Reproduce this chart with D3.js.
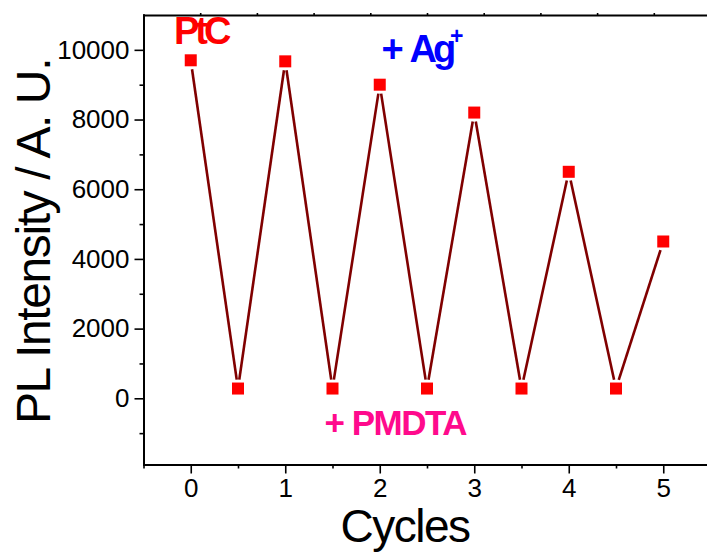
<!DOCTYPE html>
<html>
<head>
<meta charset="utf-8">
<script src="https://cdn.jsdelivr.net/npm/d3@7"></script>
<style>
  html, body { margin: 0; padding: 0; background: #fff; }
  svg { display: block; font-family: "Liberation Sans", Arial, sans-serif; }
</style>
</head>
<body>
<svg class="chart"></svg>
<script>
// values
const cycles = [0, 0.5, 1, 1.5, 2, 2.5, 3, 3.5, 4, 4.5, 5];
const intensity = [9700, 280, 9670, 280, 9000, 280, 8200, 280, 6500, 280, 4500];
const xTicks = [0, 1, 2, 3, 4, 5];
const xMinor = [-0.5, 0.5, 1.5, 2.5, 3.5, 4.5];
const yTicks = [0, 2000, 4000, 6000, 8000, 10000];
const yMinor = [-1000, 1000, 3000, 5000, 7000, 9000];
const topTicks = [0, 1, 2, 3, 4, 5, 6, 7, 8];

const chart_width = 707, chart_height = 560;
const plot_left = 143.5, plot_right = 710.5, plot_top = 15, plot_bottom = 464.5;

const svg = d3.select('.chart')
  .attr('width', chart_width)
  .attr('height', chart_height);

const x = d3.scaleLinear().domain([-0.5, 5.5]).range([plot_left, plot_right]);
const y = d3.scaleLinear().domain([-1900, 11000]).range([plot_bottom, plot_top]);
const xTop = d3.scaleLinear().domain([-1, 9]).range([plot_left, plot_right]);

function styleAxis(g, fs) {
  g.select('.domain').attr('stroke', '#000').attr('stroke-width', 2).attr('stroke-linecap', 'square');
  g.selectAll('.tick line').attr('stroke', '#000').attr('stroke-width', 1.6);
  g.selectAll('.tick text').attr('fill', '#000').style('font-size', fs + 'px')
    .style('font-family', '"Liberation Sans", Arial, sans-serif');
}

// top frame line with its tiny ticks
svg.append('g')
  .attr('transform', 'translate(0,' + plot_top + ')')
  .call(d3.axisTop(xTop).tickValues(topTicks).tickSize(2).tickSizeOuter(0).tickFormat(''))
  .call(g => styleAxis(g, 10));

// bottom axis
svg.append('g')
  .attr('transform', 'translate(0,' + plot_bottom + ')')
  .call(d3.axisBottom(x).tickValues(xMinor).tickSize(4).tickSizeOuter(0).tickFormat(''))
  .call(g => styleAxis(g, 10));
svg.append('g')
  .attr('transform', 'translate(0,' + plot_bottom + ')')
  .call(d3.axisBottom(x).tickValues(xTicks).tickSize(9).tickPadding(5).tickSizeOuter(0).tickFormat(d3.format('d')))
  .call(g => styleAxis(g, 26));

// left axis
svg.append('g')
  .attr('transform', 'translate(' + plot_left + ',0)')
  .call(d3.axisLeft(y).tickValues(yMinor).tickSize(4).tickSizeOuter(0).tickFormat(''))
  .call(g => styleAxis(g, 10));
svg.append('g')
  .attr('transform', 'translate(' + plot_left + ',0)')
  .call(d3.axisLeft(y).tickValues(yTicks).tickSize(9).tickPadding(5).tickSizeOuter(0).tickFormat(d3.format('d')))
  .call(g => styleAxis(g, 26));

// line, with small gaps around the symbols
const pts = cycles.map((c, i) => [x(c), y(intensity[i])]);
const gap = 9;
const segs = d3.pairs(pts).map(([a, b]) => {
  const dx = b[0] - a[0], dy = b[1] - a[1];
  const len = Math.hypot(dx, dy);
  const ux = dx / len, uy = dy / len;
  return [[a[0] + ux * gap, a[1] + uy * gap], [b[0] - ux * gap, b[1] - uy * gap]];
});
svg.append('g')
  .selectAll('line')
  .data(segs)
  .enter()
  .append('line')
  .attr('x1', d => d[0][0])
  .attr('y1', d => d[0][1])
  .attr('x2', d => d[1][0])
  .attr('y2', d => d[1][1])
  .attr('stroke', '#800000')
  .attr('stroke-width', 2.6);

// square symbols
const sz = 12;
svg.append('g')
  .selectAll('rect')
  .data(cycles)
  .enter()
  .append('rect')
  .attr('x', d => x(d) - sz / 2)
  .attr('y', (d, i) => y(intensity[i]) - sz / 2)
  .attr('width', sz)
  .attr('height', sz)
  .attr('fill', '#ff0000');

// annotations
svg.append('text')
  .attr('x', 174).attr('y', 44)
  .attr('fill', '#ff0000')
  .style('font-size', '38px').style('font-weight', 'bold').style('letter-spacing', '-4px')
  .text('PtC');

const ag = svg.append('text')
  .attr('x', 381.5).attr('y', 61.5)
  .attr('fill', '#0000ff')
  .style('font-size', '38px').style('font-weight', 'bold');
ag.append('tspan').text('+');
ag.append('tspan').attr('x', 409.5).style('letter-spacing', '-4px').text('Ag');
svg.append('text')
  .attr('x', 450).attr('y', 43.5)
  .attr('fill', '#0000ff')
  .style('font-size', '23px').style('font-weight', 'bold')
  .text('+');

svg.append('text')
  .attr('x', 324.5).attr('y', 435)
  .attr('fill', '#ff0a8c')
  .style('font-size', '35px').style('font-weight', 'bold').style('letter-spacing', '-1.5px')
  .text('+ PMDTA');

// axis titles
svg.append('text')
  .attr('x', 340.5).attr('y', 542)
  .attr('fill', '#000')
  .style('font-size', '46px').style('letter-spacing', '-1.5px')
  .text('Cycles');

svg.append('text')
  .attr('transform', 'rotate(-90)')
  .attr('x', -424).attr('y', 50)
  .attr('fill', '#000')
  .style('font-size', '48px').style('letter-spacing', '-1.4px')
  .text('PL Intensity / A. U.');
</script>
</body>
</html>
